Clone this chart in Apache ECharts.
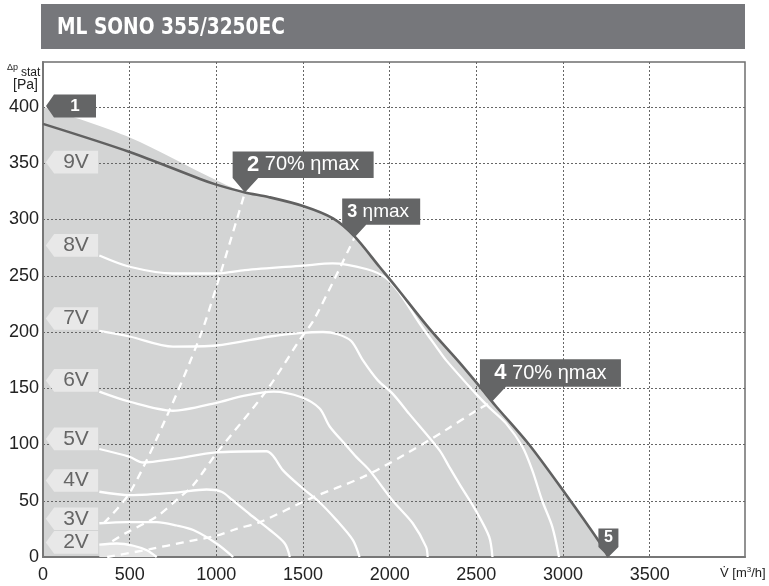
<!DOCTYPE html>
<html>
<head>
<meta charset="utf-8">
<title>ML SONO 355/3250EC</title>
<script src="https://cdn.jsdelivr.net/npm/echarts@6.0.0/dist/echarts.min.js"></script>
<style>html,body{margin:0;padding:0;background:#fff;}</style>
</head>
<body>
<div id="main" style="width:769px;height:586px;"></div>
<script>
// axis ticks
var xTicks = [0, 500, 1000, 1500, 2000, 2500, 3000, 3500];
var yTicks = [0, 50, 100, 150, 200, 250, 300, 350, 400];

// max curve (9V) and the light shade above it at low flow
var curve9V = [[0,385],[500,360],[906,336],[1000,331],[1165,324],[1300,320],[1500,312],[1673,301],[1797,285],[1941,258],[2037,240],[2229,203],[2402,173],[2517,152],[2613,134],[2804,100],[3015,56],[3207,14],[3262,0]];
var shadeHead = [[0,400],[500,373],[1000,335]];

// speed curves
var curve8V = [[325,268],[500,258],[750,252],[1000,252],[1165,255],[1500,259],[1670,261],[1865,256],[1980,248],[2060,234],[2171,208],[2268,187],[2325,175],[2498,145],[2574,133],[2670,119],[2766,98],[2823,77],[2880,50],[2938,27],[2977,0]];
var curve7V = [[325,201],[500,196],[750,187],[1000,188],[1309,196],[1480,199],[1615,200],[1700,198],[1778,192],[1845,175],[1932,157],[2018,145],[2114,127],[2287,95],[2344,80],[2402,65],[2498,41],[2574,18],[2593,0]];
var curve6V = [[325,147],[500,138],[750,130],[1000,137],[1150,143],[1330,147],[1491,142],[1596,132],[1654,116],[1750,99],[1807,89],[1884,77],[2018,50],[2133,30],[2210,9],[2219,0]];
var curve5V = [[325,96],[500,89],[578,84],[750,87],[1000,93],[1289,94],[1327,90],[1385,77],[1491,62],[1586,50],[1692,33],[1788,15],[1826,0]];
var curve4V = [[325,58],[503,55],[752,57],[944,60],[1030,58],[1090,51],[1193,38],[1309,24],[1395,12],[1424,0]];
var curve3V = [[325,30],[484,31],[656,31],[772,28],[867,24],[1001,12],[1097,0]];
var curve2V = [[325,11],[426,12],[522,10],[599,6],[656,0]];

// efficiency lines
var eta70Left = [[350,30],[500,57],[714,125],[906,196],[1000,240],[1165,324]];
var etaMax = [[400,14],[474,21],[656,36],[781,52],[867,64],[1000,92],[1290,148],[1481,193],[1567,212],[1797,284]];
var eta70Right = [[370,0],[618,7],[810,13],[1001,19],[1117,25],[1251,31],[1557,53],[1845,71],[2075,90],[2325,113],[2498,130],[2590,138]];

// tags on the left
var speedNames = ['9V', '8V', '7V', '6V', '5V', '4V', '3V', '2V'];
var speedTagY = [351, 277, 212, 157, 105, 68, 34, 13];

// numbered points
var pointNames = ['1', '2', '3', '4', '5'];
var pointText = ['', ' 70% ηmax', ' ηmax', ' 70% ηmax', ''];
var pointXY = [[0,401],[1165,324],[1797,284],[2590,138],[3262,0]];

var FONT = "'Liberation Sans', Arial, sans-serif";

var shade = shadeHead.concat(curve9V.filter(function (p) { return p[0] >= 1165; }));

function whiteLine(data, extra) {
    var s = {
        type: 'line', data: data, smooth: 0.3, symbol: 'none', z: 4,
        lineStyle: { color: '#ffffff', width: 2.3 }, silent: true
    };
    for (var k in extra) s[k] = extra[k];
    return s;
}
function dashLine(data) {
    return {
        type: 'line', data: data, smooth: 0.3, symbol: 'none', z: 4, silent: true,
        lineStyle: { color: '#ffffff', width: 2.3, type: [8, 6] }
    };
}

// tag shapes
var tagPath = 'path://M0,11.35L8.3,0L52.3,0L52.3,22.7L8.3,22.7Z';
var tagData = speedNames.map(function (n, i) {
    return {
        value: [0, speedTagY[i]], name: n,
        symbol: tagPath, symbolSize: [52.3, 22.7], symbolOffset: [29, 0],
        label: { show: true, formatter: n, position: 'inside', offset: [4, 0],
            color: '#666', fontSize: 21, fontFamily: FONT }
    };
});

var pointShapes = [
    { path: 'path://M0,11.5L8,0L50,0L50,23L8,23Z', size: [50, 23], off: [28, 0], lab: [4, 0], big: 17 },
    { path: 'path://M0,0L141,0L141,26.6L25.6,26.6L12.3,41L0,26.6Z', size: [141, 41], off: [58.2, -20.5], lab: [0, -7.2], big: 22 },
    { path: 'path://M0,0L78,0L78,26.3L24,26.3L12.3,39L0,26.3Z', size: [78, 39], off: [26.7, -19.5], lab: [-3, -6.4], big: 18 },
    { path: 'path://M0,0L141,0L141,27.4L26,27.4L12,42.4L0,27.4Z', size: [141, 42.4], off: [58.5, -21.2], lab: [0, -7.5], big: 22 },
    { path: 'path://M0,0L20,0L20,18.4L10,28.4L0,18.4Z', size: [20, 28.4], off: [0, -14.2], lab: [0, -5], big: 16 }
];
var pointData = pointNames.map(function (n, i) {
    var sh = pointShapes[i];
    return {
        value: pointXY[i], name: n,
        symbol: sh.path, symbolSize: sh.size, symbolOffset: sh.off,
        label: {
            show: true, position: 'inside', offset: sh.lab,
            formatter: '{b|' + n + '}' + (pointText[i] ? '{n|' + pointText[i] + '}' : ''),
            rich: {
                b: { color: '#fff', fontWeight: 'bold', fontSize: sh.big, fontFamily: FONT },
                n: { color: '#fff', fontSize: i === 2 ? 19 : 20, fontFamily: FONT }
            }
        }
    };
});

var chart = echarts.init(document.getElementById('main'));
var option = {
    animation: false,
    textStyle: { fontFamily: FONT },
    grid: { left: 43, right: 24, top: 62, bottom: 29, show: true, borderColor: '#6f6f6f', borderWidth: 1.5 },
    xAxis: {
        type: 'value', min: 0, max: 4050, interval: 500, z: 3,
        axisLine: { show: true, lineStyle: { color: '#777', width: 2 } },
        axisTick: { show: false, customValues: xTicks },
        axisLabel: { customValues: xTicks, color: '#222', fontSize: 18, margin: 9,
            formatter: function (v) { return String(v); } },
        splitLine: { show: true, lineStyle: { color: '#666', width: 1, type: [2, 2] } }
    },
    yAxis: {
        type: 'value', min: 0, max: 440, interval: 50, z: 3,
        axisLine: { show: true, lineStyle: { color: '#777', width: 2 } },
        axisTick: { show: false, customValues: yTicks },
        axisLabel: { customValues: yTicks, color: '#222', fontSize: 18, margin: 4,
            formatter: function (v) { return String(v); } },
        splitLine: { show: true, lineStyle: { color: '#666', width: 1, type: [2, 2] } }
    },
    graphic: [
        { type: 'rect', left: 41, top: 4, shape: { width: 704, height: 45 }, style: { fill: '#76777b' }, z: 1 },
        { type: 'text', x: 57, y: 17, scaleX: 0.9, z: 2, style: {
            text: 'ML SONO 355/3250EC', fill: '#fff', fontSize: 23, fontWeight: 'bold',
            fontFamily: "'Liberation Sans Narrow', 'DejaVu Sans Condensed', sans-serif" } },
        { type: 'text', left: 7, top: 63, z: 5, style: { text: 'Δp', fill: '#222', fontSize: 9 } },
        { type: 'text', left: 21, top: 67, z: 5, style: { text: 'stat', fill: '#222', fontSize: 12 } },
        { type: 'text', left: 13, top: 78, z: 5, style: { text: '[Pa]', fill: '#222', fontSize: 14 } },
        { type: 'text', left: 720, top: 566, z: 5, style: {
            text: 'V̇ [m{s|3}/h]', fill: '#222', fontSize: 13,
            rich: { s: { fontSize: 8, verticalAlign: 'top', fill: '#222', padding: [0, 0, 6, 0] } } } }
    ],
    series: [
        {
            type: 'line', data: shade, symbol: 'none', smooth: 0.3, z: 1, silent: true,
            lineStyle: { width: 0 }, areaStyle: { color: '#d3d4d4', opacity: 1 }
        },
        whiteLine(curve2V, { areaStyle: { color: '#e4e4e4', opacity: 1 } }),
        whiteLine(curve3V),
        whiteLine(curve4V),
        whiteLine(curve5V),
        whiteLine(curve6V),
        whiteLine(curve7V),
        whiteLine(curve8V),
        dashLine(eta70Left),
        dashLine(etaMax),
        dashLine(eta70Right),
        {
            type: 'line', data: curve9V, symbol: 'none', smooth: 0.3, z: 5, silent: true,
            lineStyle: { color: '#616161', width: 2.6 }
        },
        {
            type: 'scatter', data: tagData, z: 8, silent: true,
            itemStyle: { color: '#e8e8e8', opacity: 1 }
        },
        {
            type: 'scatter', data: pointData, z: 9, silent: true,
            itemStyle: { color: '#646566', opacity: 1 }
        }
    ]
};
chart.setOption(option);
</script>
</body>
</html>
